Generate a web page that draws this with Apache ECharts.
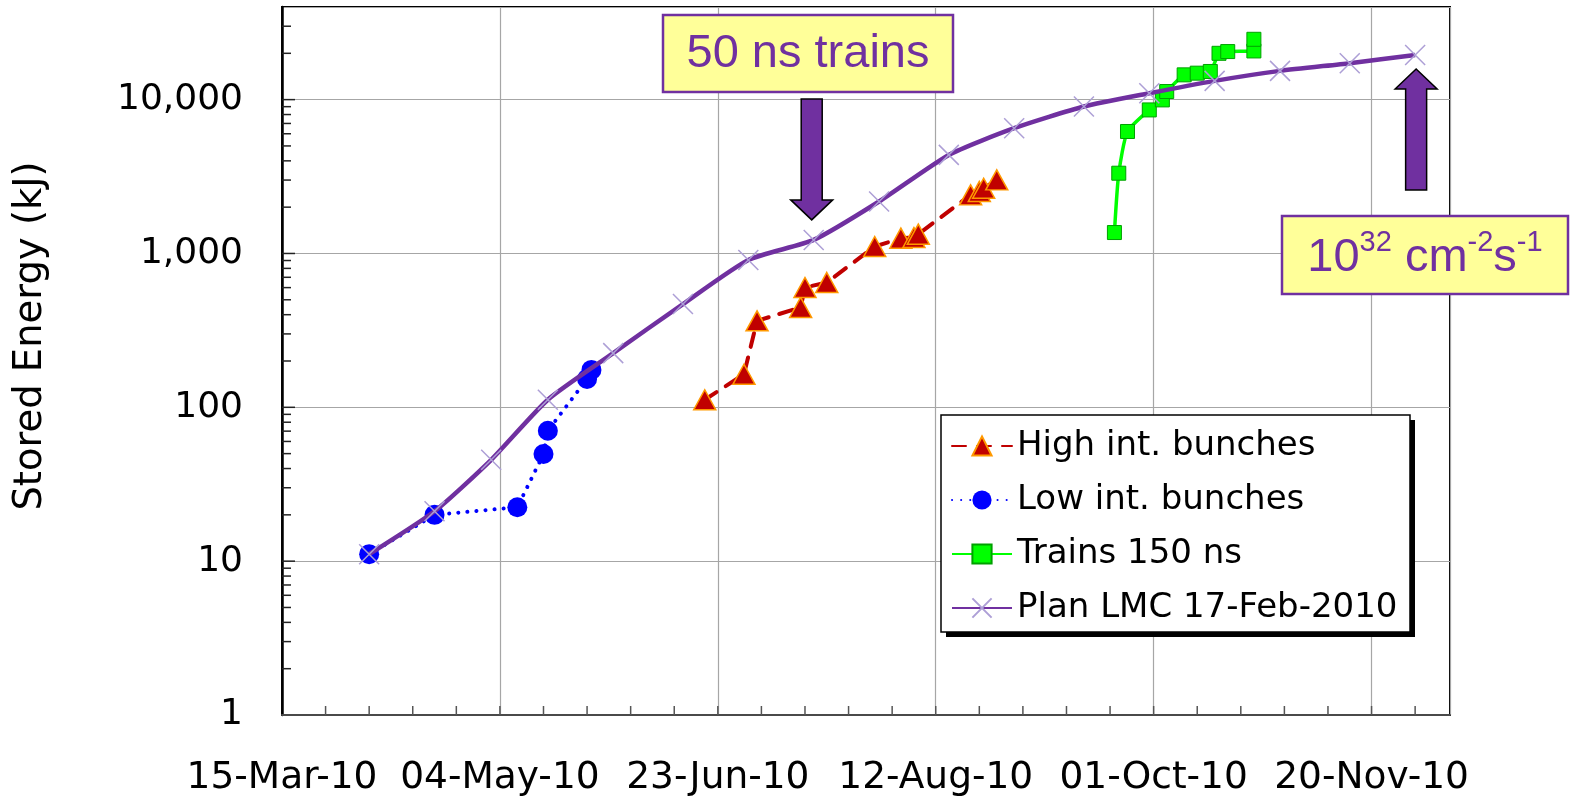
<!DOCTYPE html>
<html>
<head>
<meta charset="utf-8">
<title>Stored Energy</title>
<script src="https://cdn.jsdelivr.net/npm/echarts@6/dist/echarts.min.js"></script>
<style>
  html, body { margin: 0; padding: 0; background: #ffffff; }
  #chart { width: 1570px; height: 797px; }
</style>
</head>
<body>
<div id="chart"></div>
<script>
// ---- axis range (x is measured in days from START) ----
const START = '2010-03-15';
const END = '2010-12-08';
const X_STEP_DAYS = 50;
const Y_MIN = 1;
const Y_MAX = 40000;
const MONTHS = ['Jan','Feb','Mar','Apr','May','Jun','Jul','Aug','Sep','Oct','Nov','Dec'];

// ---- High intensity bunches ----
const highIntDates = ['2010-06-20','2010-06-29','2010-07-02','2010-07-12','2010-07-13','2010-07-18','2010-07-29',
                      '2010-08-04','2010-08-07','2010-08-08','2010-08-20','2010-08-22','2010-08-23','2010-08-26'];
const highIntValues = [112, 164, 365, 446, 601, 648, 1110, 1257, 1270, 1335, 2404, 2530, 2655, 3007];

// ---- Low intensity bunches ----
const lowIntDates = ['2010-04-04','2010-04-19','2010-05-08','2010-05-14','2010-05-15','2010-05-24','2010-05-25'];
const lowIntValues = [11.1, 20.0, 22.4, 49.7, 70.4, 153, 175];

// ---- Trains 150 ns ----
const trainsDates = ['2010-09-22','2010-09-23','2010-09-25','2010-09-30','2010-10-03','2010-10-04','2010-10-08',
                     '2010-10-11','2010-10-14','2010-10-16','2010-10-18','2010-10-24','2010-10-24'];
const trainsValues = [1368, 3324, 6206, 8570, 9960, 11290, 14490, 14860, 15240, 20000, 20530, 20720, 24670];

// ---- Plan LMC 17-Feb-2010 ----
const planDates = ['2010-04-04','2010-04-19','2010-05-02','2010-05-15','2010-05-30','2010-06-15','2010-06-30',
                   '2010-07-15','2010-07-30','2010-08-15','2010-08-30','2010-09-15','2010-09-30','2010-10-15',
                   '2010-10-30','2010-11-15','2010-11-30'];
const planValues = [11.1, 21.1, 45.6, 112, 225, 469, 908, 1225, 2177, 4372, 6520, 9020, 11010, 13240, 15380, 17250, 19500];

// ---- annotations ----
const trainsNoteText = '50 ns trains';
const trainsNoteIndex = 7;    // plan point the down arrow points at
const lumiNoteIndex = 16;     // plan point the up arrow points at

const DAY_MS = 86400000;
function toUTC(s) { return Date.parse(s + 'T00:00:00Z'); }
function dayOffset(s) { return Math.round((toUTC(s) - toUTC(START)) / DAY_MS); }
function pairs(dates, values) { return dates.map((d, i) => [dayOffset(d), values[i]]); }
function fmtDate(days) {
  const d = new Date(toUTC(START) + days * DAY_MS);
  const dd = String(d.getUTCDate()).padStart(2, '0');
  const yy = String(d.getUTCFullYear()).slice(2);
  return dd + '-' + MONTHS[d.getUTCMonth()] + '-' + yy;
}
const X_MAX = dayOffset(END);

// tick mark positions for both axes
const xTickDays = [];
for (let d = 10; d < X_MAX; d += 10) xTickDays.push(d);
const yTickValues = [];
for (let p = 1; p < Y_MAX; p *= 10) {
  for (let m = 1; m <= 9; m++) {
    const v = m * p;
    if (v > Y_MIN && v < Y_MAX) yTickValues.push({ v: v, major: m === 1 });
  }
}

const FONT = 'DejaVu Sans, Verdana, sans-serif';
const NOTE_FONT = 'Liberation Sans, Arial, sans-serif';
const PURPLE = '#7030A0';

// legend frame
const LEGEND_BOX = { x: 941, y: 415, w: 469, h: 217 };

const chart = echarts.init(document.getElementById('chart'), null, { renderer: 'canvas' });

const option = {
  animation: false,
  backgroundColor: '#ffffff',
  grid: {
    left: 282, right: 120, top: 7, bottom: 80,
    show: true, borderColor: '#000000', borderWidth: 2, backgroundColor: 'transparent'
  },
  legend: {
    orient: 'vertical',
    left: LEGEND_BOX.x, top: LEGEND_BOX.y,
    padding: [14, 10, 10, 10],
    itemWidth: 60, itemHeight: 24, itemGap: 20,
    z: 20,
    textStyle: { fontFamily: FONT, fontSize: 34, color: '#000000' },
    data: ['High int. bunches', 'Low int. bunches', 'Trains 150 ns', 'Plan LMC 17-Feb-2010']
  },
  xAxis: {
    type: 'value',
    min: 0, max: X_MAX, interval: X_STEP_DAYS,
    axisLine: { show: true, onZero: false, lineStyle: { color: '#4a4a4a', width: 2 } },
    axisTick: { show: false },
    splitLine: { show: true, lineStyle: { color: '#a6a6a6', width: 1.2 } },
    axisLabel: {
      margin: 44, fontFamily: FONT, fontSize: 37.5, color: '#000000',
      formatter: v => (v % X_STEP_DAYS === 0 ? fmtDate(v) : '')
    }
  },
  yAxis: {
    type: 'log', logBase: 10, min: Y_MIN, max: Y_MAX,
    name: 'Stored Energy (kJ)',
    nameLocation: 'middle', nameGap: 232,
    nameTextStyle: { fontFamily: FONT, fontSize: 38.5, color: '#000000', padding: [0, 0, 0, 50] },
    axisLine: { show: true, lineStyle: { color: '#000000', width: 2.5 } },
    axisTick: { show: false },
    splitLine: { show: true, lineStyle: { color: '#a6a6a6', width: 1.2 } },
    axisLabel: {
      margin: 39, fontFamily: FONT, fontSize: 36, color: '#000000',
      formatter: v => {
        const e = Math.log10(v);
        if (Math.abs(e - Math.round(e)) > 1e-6) return '';
        return Math.round(v).toLocaleString('en-US');
      }
    }
  },
  series: [
    {
      name: 'High int. bunches', type: 'line',
      data: pairs(highIntDates, highIntValues),
      symbol: 'triangle', symbolSize: [22, 20],
      itemStyle: { color: '#C00000', borderColor: '#FF9900', borderWidth: 1.5 },
      lineStyle: { color: '#C00000', width: 4, type: [14, 11], cap: 'round' },
      z: 3
    },
    {
      name: 'Low int. bunches', type: 'line',
      data: pairs(lowIntDates, lowIntValues),
      symbol: 'circle', symbolSize: 20,
      itemStyle: { color: '#0000FF', borderColor: '#0000FF', borderWidth: 0 },
      lineStyle: { color: '#0000FF', width: 4, type: [0.1, 9], cap: 'round' },
      z: 3
    },
    {
      name: 'Trains 150 ns', type: 'line',
      data: pairs(trainsDates, trainsValues),
      symbol: 'rect', symbolSize: 14,
      smooth: 0.2,
      itemStyle: { color: '#00FF00', borderColor: '#00A000', borderWidth: 1 },
      lineStyle: { color: '#00FF00', width: 3.5 },
      z: 3
    },
    {
      name: 'Plan LMC 17-Feb-2010', type: 'line',
      data: pairs(planDates, planValues),
      symbol: 'path://M0,0L10,10M10,0L0,10', symbolSize: 20, symbolKeepAspect: true,
      smooth: 0.2,
      itemStyle: { color: 'rgba(0,0,0,0)', borderColor: '#ad9fd6', borderWidth: 1.5 },
      lineStyle: { color: PURPLE, width: 4.5 },
      z: 4
    },
    {
      // x-axis tick marks every 10 days
      type: 'custom', silent: true, clip: false, z: 6,
      data: xTickDays.map(d => [d, Y_MIN]),
      encode: { x: 0, y: 1 },
      renderItem: (params, api) => {
        const p = api.coord([api.value(0), Y_MIN]);
        return { type: 'line', shape: { x1: p[0], y1: p[1], x2: p[0], y2: p[1] - 9 },
                 style: { stroke: '#555555', lineWidth: 1.5 } };
      }
    },
    {
      // log y-axis tick marks (long at decades, short between)
      type: 'custom', silent: true, clip: false, z: 6,
      data: yTickValues.map(t => [0, t.v, t.major ? 1 : 0]),
      encode: { x: 0, y: 1 },
      renderItem: (params, api) => {
        const p = api.coord([0, api.value(1)]);
        const len = api.value(2) ? 13 : 9;
        return { type: 'line', shape: { x1: p[0], y1: p[1], x2: p[0] + len, y2: p[1] },
                 style: { stroke: '#222222', lineWidth: 1.5 } };
      }
    }
  ]
};

chart.setOption(option);

// ---- call-out arrows and boxes, anchored to plan points ----
function arrow(tipX, tipY, dir) {
  // dir = 1 points down, -1 points up
  const shaftHalf = 10.5, headHalf = 21, headLen = 20, shaftLen = 101;
  const hb = tipY - dir * headLen;
  const se = hb - dir * shaftLen;
  return {
    type: 'polygon', z: 100,
    shape: { points: [
      [tipX - shaftHalf, se], [tipX + shaftHalf, se], [tipX + shaftHalf, hb], [tipX + headHalf, hb],
      [tipX, tipY], [tipX - headHalf, hb], [tipX - shaftHalf, hb]
    ] },
    style: { fill: PURPLE, stroke: '#000000', lineWidth: 1.5 }
  };
}

const planData = pairs(planDates, planValues);
const pDown = chart.convertToPixel({ seriesIndex: 3 }, planData[trainsNoteIndex]);
const pUp = chart.convertToPixel({ seriesIndex: 3 }, planData[lumiNoteIndex]);

chart.setOption({
  graphic: [
    // legend frame with a hard drop shadow
    {
      type: 'rect', z: 18,
      shape: { x: LEGEND_BOX.x + 5, y: LEGEND_BOX.y + 5, width: LEGEND_BOX.w, height: LEGEND_BOX.h },
      style: { fill: '#000000' }
    },
    {
      type: 'rect', z: 19,
      shape: { x: LEGEND_BOX.x, y: LEGEND_BOX.y, width: LEGEND_BOX.w, height: LEGEND_BOX.h },
      style: { fill: '#ffffff', stroke: '#000000', lineWidth: 1.5 }
    },
    arrow(pDown[0] - 2, pDown[1] - 20, 1),
    arrow(pUp[0] + 1, pUp[1] + 14, -1),
    {
      type: 'rect', z: 100,
      shape: { x: 663, y: 15, width: 290, height: 77 },
      style: { fill: '#FFFF99', stroke: PURPLE, lineWidth: 2.5 }
    },
    {
      type: 'text', z: 101, x: 808, y: 54,
      style: { text: trainsNoteText, fill: PURPLE, font: '47px ' + NOTE_FONT,
               align: 'center', verticalAlign: 'middle' }
    },
    {
      type: 'rect', z: 100,
      shape: { x: 1282, y: 216, width: 286, height: 78 },
      style: { fill: '#FFFF99', stroke: PURPLE, lineWidth: 2.5 }
    },
    {
      type: 'text', z: 101, x: 1425, y: 258,
      style: {
        text: '{b|10}{s|32}{b| cm}{s|-2}{b|s}{s|-1}',
        align: 'center', verticalAlign: 'middle',
        rich: {
          b: { fontSize: 47, fontFamily: NOTE_FONT, fill: PURPLE },
          s: { fontSize: 29, fontFamily: NOTE_FONT, fill: PURPLE, padding: [0, 0, 30, 0] }
        }
      }
    }
  ]
});
</script>
</body>
</html>
